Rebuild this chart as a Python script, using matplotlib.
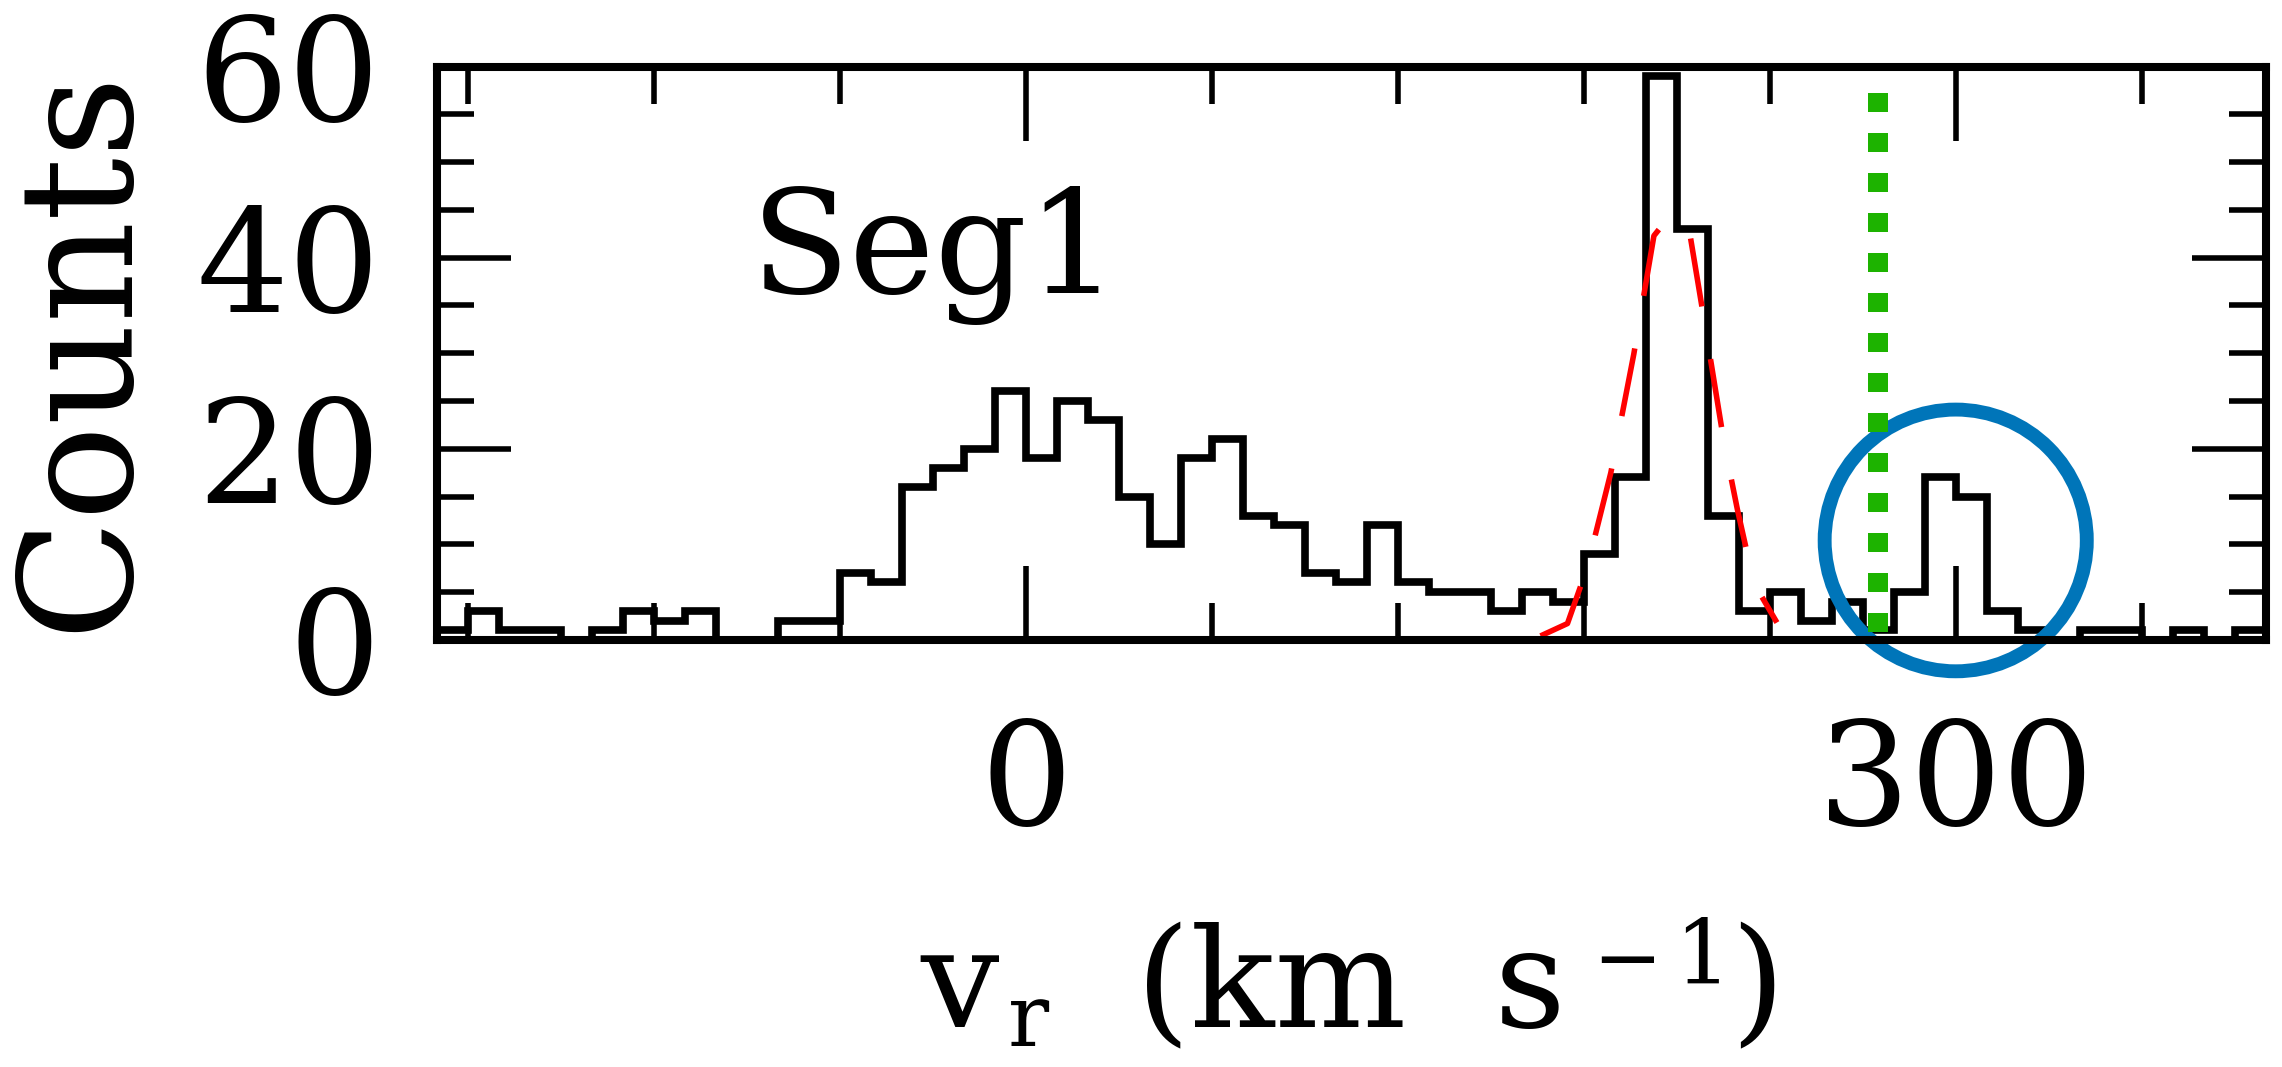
import numpy as np
import matplotlib
matplotlib.use("Agg")
import matplotlib.pyplot as plt
from matplotlib.ticker import MultipleLocator
from matplotlib.patches import Ellipse

plt.rcParams['font.family'] = ['DejaVu Serif Condensed', 'DejaVu Serif']

# histogram of radial velocities, 10 km/s bins from -190 to 400
bin_edges = np.arange(-190, 401, 10)
counts = [1, 3, 1, 1, 0, 1, 3, 2, 3, 0,
          0, 2, 2, 7, 6, 16, 18, 20, 26,
          19, 25, 23, 15, 10, 19, 21, 13, 12, 7,
          6, 12, 6, 5, 5, 3, 5, 4, 9, 17,
          59, 43, 13, 3, 5, 2, 4, 1, 5, 17,
          15, 3, 1, 0, 1, 1, 0, 1, 0, 1]

# gaussian fit of the stream peak
fit_v = [166, 174.7, 181, 188.7, 196.1, 202.6, 208.5,
         214.3, 219, 225.3, 229.5, 234.9, 242.3]
fit_n = [0.4, 1.7, 7.5, 17.5, 29.9, 42.3, 44.7,
         42.3, 33.1, 20.5, 13.7, 5.9, 1.8]

v_marker = 275

W, H = 2282, 1067
fig = plt.figure(figsize=(W / 100, H / 100), dpi=100)
ax = fig.add_axes([0.1917, 0.4004, 0.8011, 0.5371])

ax.stairs(counts, bin_edges, color='black', linewidth=5.5, zorder=2)
ax.plot(fit_v, fit_n, color='red', linewidth=4.0, dashes=(12.4, 9.6), zorder=3)
ax.add_patch(Ellipse((300, 10.4), 84.6, 27.4, fill=False, edgecolor='#0075b9',
                     linewidth=10, zorder=4, clip_on=False))
ax.vlines(v_marker, 57.2, 0, color='#1db300', linewidth=14.4,
          linestyles=(0, (0.95, 1.05)), zorder=5)

ax.text(-89, 36.3, 'Seg1', fontsize=104, ha='left', va='baseline')

ax.set_xlim(-190, 400)
ax.set_ylim(0, 60)
ax.set_xticks([0, 300])
ax.set_yticks([0, 20, 40, 60])
ax.xaxis.set_minor_locator(MultipleLocator(60))
ax.yaxis.set_minor_locator(MultipleLocator(5))
ax.tick_params(which='both', direction='in', top=True, right=True, width=4.0,
               labelsize=104)
ax.tick_params(which='major', length=53)
ax.tick_params(which='minor', length=26.6)
ax.tick_params(axis='x', pad=55)
ax.tick_params(axis='y', pad=41)
for s in ax.spines.values():
    s.set_linewidth(5.8)
    s.set_zorder(6)


def px_text(x, y, s, size, **kw):
    # place text by pixel position (from top-left) of the figure
    fig.text(x / W, 1 - y / H, s, fontsize=size, family='DejaVu Serif',
             va='baseline', **kw)


px_text(124, 349, 'Counts', 114, rotation=90, rotation_mode='anchor',
        ha='center')

# x label built piece by piece: v_r (km s^-1)
px_text(920, 1027, 'v', 100, ha='left')
px_text(1008, 1046, 'r', 62, ha='left')
px_text(1136, 1027, '(km  s', 100, ha='left')
px_text(1592, 986, '\u2212', 60, ha='left')
px_text(1674, 984, '1', 64, ha='left')
px_text(1730, 1027, ')', 100, ha='left')

fig.savefig('out.png', dpi=100)
